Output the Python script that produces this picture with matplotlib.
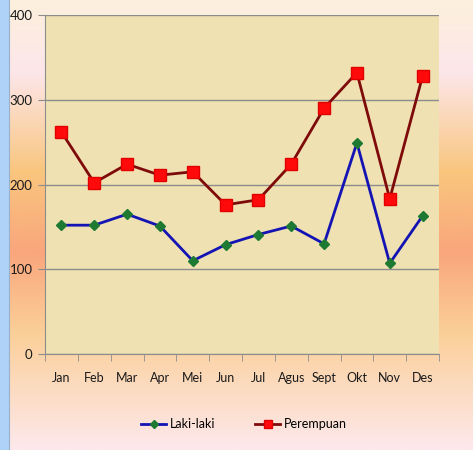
import numpy as np
import matplotlib
matplotlib.use("Agg")
import matplotlib.pyplot as plt
from matplotlib.colors import LinearSegmentedColormap

bulan = ["Jan", "Feb", "Mar", "Apr", "Mei", "Jun", "Jul", "Agus", "Sept", "Okt", "Nov", "Des"]
laki_laki = [152, 152, 165, 151, 110, 129, 141, 151, 130, 249, 107, 163]
perempuan = [262, 202, 224, 211, 215, 176, 182, 224, 290, 332, 183, 328]

plt.rcParams['font.family'] = ['Lato', 'DejaVu Sans']

fig = plt.figure(figsize=(4.73, 4.5), dpi=100)

# latar belakang gradien (atas ke bawah)
bg = fig.add_axes([0, 0, 1, 1], zorder=-2)
warna = [(0.0, "#fcf0dc"), (0.16, "#fde6ea"), (0.38, "#f9c67e"),
         (0.56, "#f9a67c"), (0.74, "#fbcf98"), (1.0, "#fde8ec")]
cmap = LinearSegmentedColormap.from_list("sunset", warna)
grad = np.linspace(0, 1, 256).reshape(-1, 1)
bg.imshow(grad, aspect="auto", cmap=cmap, extent=[0, 1, 0, 1], origin="upper")
# strip biru di kiri
bg.axvspan(0, 8 / 473, color="#aed2f8")
bg.axvline(9 / 473, color="#9ab0c8", lw=0.8)
bg.set_xlim(0, 1)
bg.set_ylim(0, 1)
bg.axis("off")

ax = fig.add_axes([45 / 473, 96 / 450, 394 / 473, 339 / 450])
ax.set_facecolor("#efe1b2")
x = np.arange(len(bulan))

ax.plot(x, laki_laki, color="#1414b4", lw=2, marker="D", ms=5.5,
        mfc="#1e7a32", mec="#1e7a32", label="Laki-laki", zorder=3)
ax.plot(x, perempuan, color="#7e0a0a", lw=2, marker="s", ms=8,
        mfc="#ff0a0a", mec="#e00000", label="Perempuan", zorder=3)

ax.set_xlim(-0.5, len(bulan) - 0.5)
ax.set_ylim(0, 400)
ax.set_yticks([0, 100, 200, 300, 400])
ax.yaxis.grid(True, color="#8c8c8c", lw=1)
ax.set_axisbelow(True)

ax.set_xticks(x)
ax.set_xticklabels(bulan)
ax.set_xticks(np.arange(-0.5, len(bulan)), minor=True)
ax.tick_params(axis="x", which="major", length=0, pad=13, labelsize=9, colors="#1a1a1a")
ax.tick_params(axis="x", which="minor", length=5, color="#8c8c8c", direction="out")
ax.tick_params(axis="y", length=5, labelsize=9.5, pad=4, colors="#8c8c8c", labelcolor="#1a1a1a")

for s in ["top", "right"]:
    ax.spines[s].set_visible(False)
for s in ["left", "bottom"]:
    ax.spines[s].set_color("#8c8c8c")

fig.legend(loc="center", bbox_to_anchor=(244 / 473, 1 - 424 / 450), ncol=2,
           frameon=False, fontsize=9, handlelength=2.0, columnspacing=3.2,
           handletextpad=0.3, markerscale=0.75)

plt.savefig("out.png", dpi=100)
